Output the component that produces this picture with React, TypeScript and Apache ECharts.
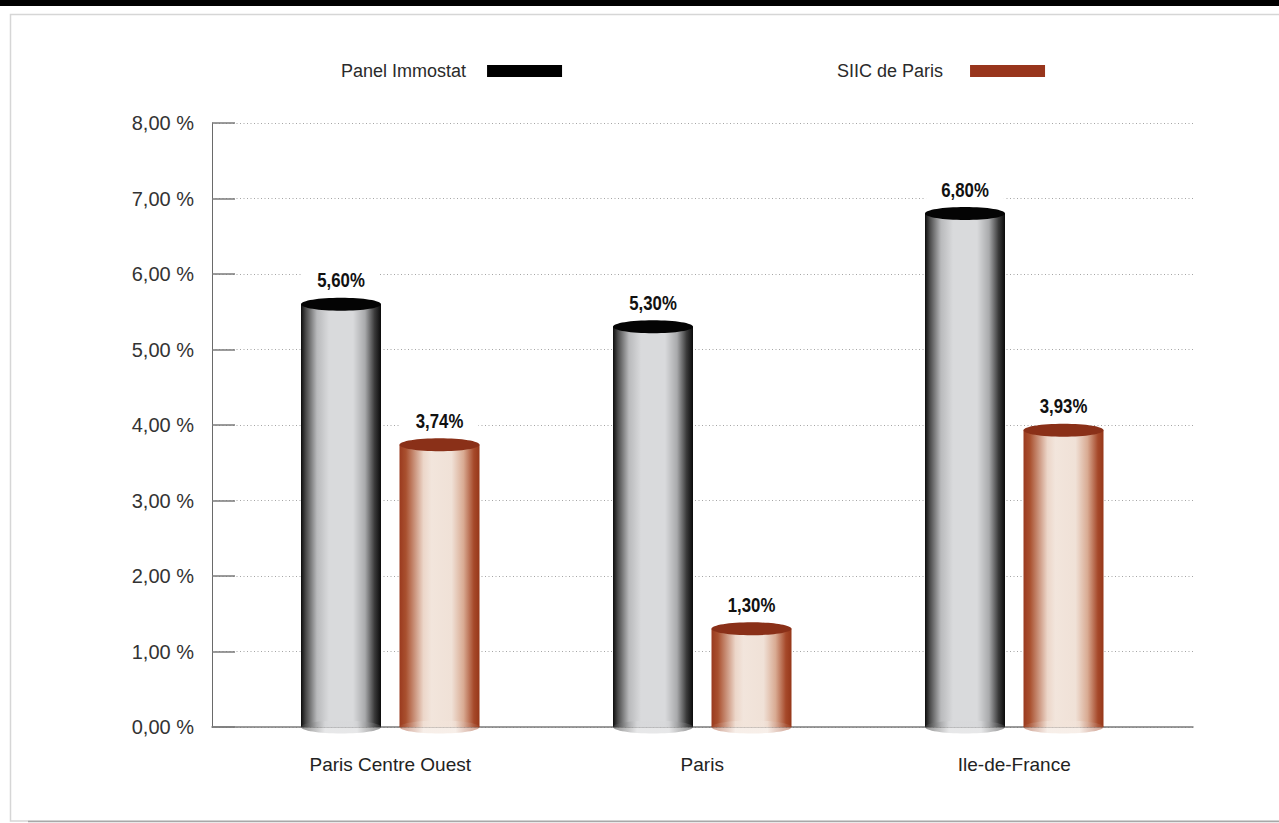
import React, { useEffect, useRef } from "react";
import * as echarts from "echarts";

// Rendement comparé : Panel Immostat vs SIIC de Paris
const categories = ["Paris Centre Ouest", "Paris", "Ile-de-France"];
const seriesNames = ["Panel Immostat", "SIIC de Paris"];
const panelImmostat = [5.6, 5.3, 6.8];
const siicDeParis = [3.74, 1.3, 3.93];
const yMin = 0;
const yMax = 8;
const yStep = 1;

const pct = (v: number) => v.toFixed(2).replace(".", ",");

const LABEL_FONT = "'Liberation Sans', Arial, Helvetica, sans-serif";
const TEXT_FONT = "'Liberation Sans', Arial, Helvetica, sans-serif";

type Palette = { body: { offset: number; color: string }[]; foot: { offset: number; color: string }[]; cap: string; legend: string };

const greyPalette: Palette = {
  body: [
    { offset: 0, color: "#0c0c0c" },
    { offset: 0.06, color: "#4a4a4a" },
    { offset: 0.2, color: "#b9babc" },
    { offset: 0.35, color: "#d9dadc" },
    { offset: 0.65, color: "#d9dadc" },
    { offset: 0.8, color: "#a9aaac" },
    { offset: 0.92, color: "#3a3a3a" },
    { offset: 1, color: "#0a0a0a" },
  ],
  foot: [
    { offset: 0, color: "rgba(60,60,60,0.55)" },
    { offset: 0.3, color: "rgba(215,216,218,0.6)" },
    { offset: 0.7, color: "rgba(215,216,218,0.6)" },
    { offset: 1, color: "rgba(60,60,60,0.55)" },
  ],
  cap: "#040404",
  legend: "#000000",
};

const brownPalette: Palette = {
  body: [
    { offset: 0, color: "#9a3a1e" },
    { offset: 0.08, color: "#a9502f" },
    { offset: 0.3, color: "#ecd6c9" },
    { offset: 0.4, color: "#f2e5dc" },
    { offset: 0.65, color: "#f0e1d7" },
    { offset: 0.8, color: "#d9ab93" },
    { offset: 0.93, color: "#a6492a" },
    { offset: 1, color: "#963719" },
  ],
  foot: [
    { offset: 0, color: "rgba(160,70,40,0.5)" },
    { offset: 0.3, color: "rgba(242,228,218,0.6)" },
    { offset: 0.7, color: "rgba(242,228,218,0.6)" },
    { offset: 1, color: "rgba(160,70,40,0.5)" },
  ],
  cap: "#8a3018",
  legend: "#98351c",
};

function cylinder(palette: Palette, offset: number) {
  return (_params: any, api: any) => {
    const idx = api.value(0);
    const v = api.value(1);
    const top = api.coord([idx, v]);
    const base = api.coord([idx, 0]);
    const w = 80;
    const rx = w / 2;
    const ry = 6.5;
    const cx = top[0] + offset;
    const body = new echarts.graphic.LinearGradient(0, 0, 1, 0, palette.body);
    const foot = new echarts.graphic.LinearGradient(0, 0, 1, 0, palette.foot);
    return {
      type: "group",
      children: [
        { type: "rect", shape: { x: cx - rx, y: top[1], width: w, height: base[1] - top[1] }, style: { fill: body } },
        { type: "ellipse", shape: { cx, cy: base[1], rx, ry }, style: { fill: foot } },
        { type: "ellipse", shape: { cx, cy: top[1], rx, ry }, style: { fill: palette.cap } },
        {
          type: "text",
          x: cx,
          y: top[1] - 24,
          scaleX: 0.84,
          style: {
            text: pct(v) + "%",
            fill: "#111",
            font: `bold 20px ${LABEL_FONT}`,
            align: "center",
            verticalAlign: "middle",
            backgroundColor: "#ffffff",
            padding: [2, 18],
          },
        },
      ],
    };
  };
}

const legendText = (pad: number) => ({
  fontFamily: TEXT_FONT,
  fontSize: 18,
  color: "#2a2a2a",
  padding: [0, pad, 0, 0],
});

export default function App() {
  const ref = useRef<HTMLDivElement>(null);

  useEffect(() => {
    if (!ref.current) return;
    const chart = echarts.init(ref.current, undefined, { renderer: "svg" });

    const legendBase = {
      top: 62,
      padding: 0,
      align: "right",
      icon: "rect",
      itemWidth: 75,
      itemHeight: 12,
      selectedMode: false,
    };

    const option: any = {
      animation: false,
      backgroundColor: "#ffffff",
      graphic: [
        { type: "rect", z: -10, shape: { x: 0, y: 0, width: 1279, height: 6 }, style: { fill: "#000" } },
        {
          type: "rect",
          z: -10,
          shape: { x: 10.5, y: 14.5, width: 1300, height: 806.5 },
          style: { fill: "none", stroke: "#d6d6d6", lineWidth: 1.5 },
        },
        { type: "line", z: -9, shape: { x1: 28, y1: 821.5, x2: 1279, y2: 821.5 }, style: { stroke: "#a8a8a8", lineWidth: 1.5 } },
      ],
      legend: [
        { ...legendBase, data: [seriesNames[0]], left: 341, textStyle: legendText(16) },
        { ...legendBase, data: [seriesNames[1]], left: 837, textStyle: legendText(22) },
      ],
      grid: [
        { left: 212, right: 86, top: 123, bottom: 96 },
        { left: 234.25, right: 108.75, top: 123, bottom: 96 },
      ],
      xAxis: [
        {
          gridIndex: 0,
          type: "value",
          min: 0,
          max: 1,
          axisLine: { show: true, lineStyle: { color: "#7a7a7a", width: 1.5 } },
          axisTick: { show: false },
          axisLabel: { show: false },
          splitLine: { show: false },
        },
        {
          gridIndex: 1,
          type: "category",
          data: categories,
          axisLine: { show: false },
          axisTick: { show: false },
          axisLabel: { margin: 28, fontFamily: TEXT_FONT, fontSize: 19, color: "#222" },
        },
      ],
      yAxis: [
        {
          gridIndex: 0,
          type: "value",
          min: yMin,
          max: yMax,
          interval: yStep,
          axisLine: { show: true, lineStyle: { color: "#6a6a6a", width: 1 } },
          axisTick: { show: true, inside: true, length: 23, lineStyle: { color: "#7a7a7a", width: 1.5 } },
          axisLabel: {
            margin: 18,
            fontFamily: TEXT_FONT,
            fontSize: 20,
            color: "#333",
            padding: [0, 0, 12, 0],
            formatter: (v: number) => pct(v) + " %",
          },
          splitLine: { show: true, lineStyle: { color: "#a5a5a5", type: [1, 2.5], width: 1 } },
        },
        {
          gridIndex: 1,
          type: "value",
          min: yMin,
          max: yMax,
          interval: yStep,
          show: false,
          splitLine: { show: false },
        },
      ],
      series: [
        {
          name: seriesNames[0],
          type: "custom",
          xAxisIndex: 1,
          yAxisIndex: 1,
          itemStyle: { color: greyPalette.legend },
          encode: { x: 0, y: 1 },
          data: panelImmostat.map((v, i) => [i, v]),
          renderItem: cylinder(greyPalette, -49.25),
          z: 5,
        },
        {
          name: seriesNames[1],
          type: "custom",
          xAxisIndex: 1,
          yAxisIndex: 1,
          itemStyle: { color: brownPalette.legend },
          encode: { x: 0, y: 1 },
          data: siicDeParis.map((v, i) => [i, v]),
          renderItem: cylinder(brownPalette, 49.25),
          z: 5,
        },
      ],
    };

    chart.setOption(option);
    return () => chart.dispose();
  }, []);

  return (
    <div
      ref={ref}
      style={{ position: "fixed", left: 0, top: 0, width: 1279, height: 823, background: "#fff" }}
    />
  );
}
